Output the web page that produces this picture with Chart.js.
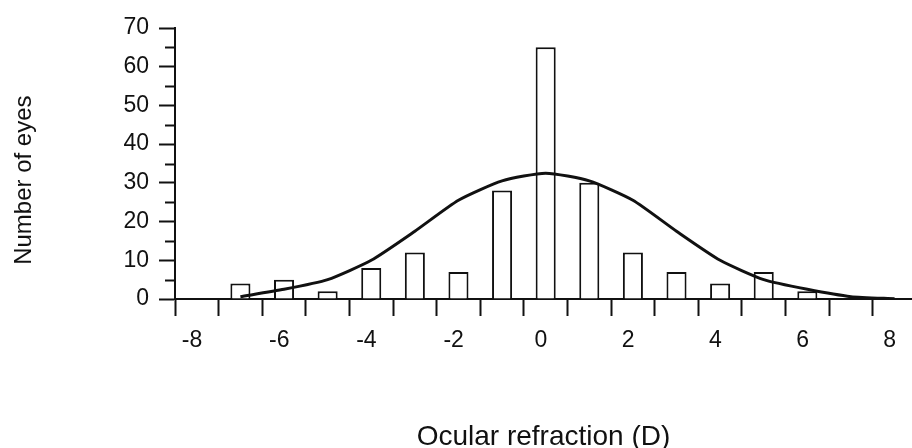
<!DOCTYPE html>
<html>
<head>
<meta charset="utf-8">
<script src="https://cdn.jsdelivr.net/npm/chart.js@4"></script>
<style>
  body { margin: 0; background: #fff; }
  #chart { display: block; }
</style>
</head>
<body>
<canvas id="chart" width="912" height="448"></canvas>
<script>
// --- DATA ---
// histogram: refraction bins (D) and number of eyes in each
const refraction = [-7, -6, -5, -4, -3, -2, -1, 0, 1, 2, 3, 4, 5, 6];
const eyeCounts = [4, 5, 2, 8, 12, 7, 28, 65, 30, 12, 7, 4, 7, 2];

// fitted normal curve, one point per bin
const fitX = [-7, -6, -5, -4, -3, -2, -1, 0, 1, 2, 3, 4, 5, 6, 7, 8];
const fitY = [0.6, 2.5, 5, 10, 17.5, 25.5, 30.5, 32.5, 30.5, 25.5, 17.5, 10, 5, 2.5, 0.6, 0.05];

// bin edges get the tick marks, every second edge carries a label
const binEdges = [-8.5, -7.5, -6.5, -5.5, -4.5, -3.5, -2.5, -1.5, -0.5, 0.5, 1.5, 2.5, 3.5, 4.5, 5.5, 6.5, 7.5];
const xLabels = [-8, -6, -4, -2, 0, 2, 4, 6, 8];
const yMinorTicks = [5, 15, 25, 35, 45, 55, 65];

const FONT = "'Liberation Sans', Arial, Helvetica, sans-serif";

// short ticks at the odd fives on the y axis
const minorTicks = {
  id: "minorTicks",
  afterDraw(chart) {
    const y = chart.scales.y;
    const ctx = chart.ctx;
    ctx.save();
    ctx.strokeStyle = "#111";
    ctx.lineWidth = 2;
    yMinorTicks.forEach((v) => {
      const py = Math.round(y.getPixelForValue(v)) + 0.5;
      ctx.beginPath();
      ctx.moveTo(y.right - 10, py);
      ctx.lineTo(y.right, py);
      ctx.stroke();
    });
    ctx.restore();
  },
};

new Chart(document.getElementById("chart"), {
  type: "bar",
  data: {
    datasets: [
      {
        type: "line",
        data: fitX.map((x, i) => ({ x: x, y: fitY[i] })),
        borderColor: "#111",
        borderWidth: 3,
        pointRadius: 0,
        tension: 0.2,
        order: 0,
      },
      {
        type: "bar",
        data: refraction.map((x, i) => ({ x: x, y: eyeCounts[i] })),
        backgroundColor: "#fff",
        borderColor: "#111",
        borderWidth: 2,
        barPercentage: 1,
        categoryPercentage: 0.46,
        order: 1,
      },
    ],
  },
  options: {
    responsive: false,
    animation: false,
    layout: { padding: { top: 28, right: 0, left: 0, bottom: 0 } },
    plugins: { legend: { display: false }, tooltip: { enabled: false } },
    scales: {
      x: {
        type: "linear",
        offset: false,
        min: -8.5,
        max: 8.4,
        afterBuildTicks: (scale) => {
          scale.ticks = binEdges.map((v) => ({ value: v }));
        },
        afterFit: (scale) => {
          scale.height = 149;
        },
        grid: { offset: false, drawOnChartArea: false, drawTicks: true, tickLength: 17, tickColor: "#111", tickWidth: 2 },
        border: { display: true, color: "#111", width: 2 },
        ticks: {
          autoSkip: false,
          maxRotation: 0,
          padding: 11,
          labelOffset: 17,
          color: "#111",
          font: { family: FONT, size: 23 },
          callback: (v) => {
            const lab = Math.round(v + 0.5);
            return xLabels.includes(lab) ? String(lab) : "";
          },
        },
        title: {
          display: true,
          text: "Ocular refraction (D)",
          color: "#111",
          font: { family: FONT, size: 28, lineHeight: 0.8 },
          padding: { top: 0, bottom: 0 },
        },
      },
      y: {
        min: 0,
        max: 70,
        afterFit: (scale) => {
          scale.width = 175;
        },
        grid: { drawOnChartArea: false, drawTicks: true, tickLength: 16, tickColor: "#111", tickWidth: 2 },
        border: { display: true, color: "#111", width: 2 },
        ticks: {
          stepSize: 10,
          padding: 10,
          color: "#111",
          font: { family: FONT, size: 23 },
        },
        title: {
          display: true,
          // trailing spaces push the centred title a little lower
          text: "Number of eyes     ",
          color: "#111",
          font: { family: FONT, size: 24, lineHeight: 1 },
          padding: { top: 12, bottom: 0 },
        },
      },
    },
  },
  plugins: [minorTicks],
});
</script>
</body>
</html>
